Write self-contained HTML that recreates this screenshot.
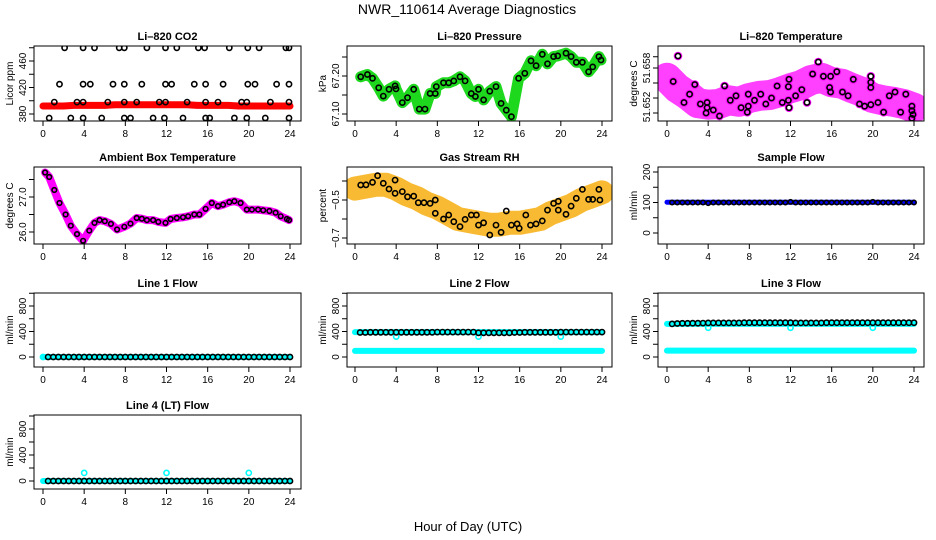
<!DOCTYPE html>
<html><head><meta charset="utf-8"><style>
html,body{margin:0;padding:0;background:#fff}
svg{display:block;font-family:"Liberation Sans",sans-serif}
.t{font-size:11px;font-weight:bold;text-anchor:middle}
.tk{font-size:10px;text-anchor:middle}
</style></head><body>
<svg id="c" width="936" height="540" viewBox="0 0 936 540">
<text x="467" y="14" font-size="14" text-anchor="middle">NWR_110614  Average Diagnostics</text>
<text x="468" y="531" font-size="13" text-anchor="middle">Hour of Day (UTC)</text>
</svg>
<script>
const xTicks=[0,4,8,12,16,20,24];
const H=[0.5,1,1.5,2,2.5,3,3.5,4,4.5,5,5.5,6,6.5,7,7.5,8,8.5,9,9.5,10,10.5,11,11.5,12,12.5,13,13.5,14,14.5,15,15.5,16,16.5,17,17.5,18,18.5,19,19.5,20,20.5,21,21.5,22,22.5,23,23.5,24];
const bandHours=[0,1,2,3,4,5,6,7,8,9,10,11,12,13,14,15,16,17,18,19,20,21,22,23,24];
// CO2
const co2Hours=[2.1,3.9,5,7.4,7.9,10.1,11.9,13,15.1,15.7,18.1,19.9,21,23.6,23.9,1.6,3.9,4.6,6.8,7.9,9.6,11.9,12.5,14.7,15.8,17.5,19.9,20.6,22.7,23.9,1.1,3.3,3.9,6.3,7.9,9.1,11.3,11.9,14,15.8,17,19.3,19.8,22.1,23.9,0.6,2.7,3.9,5.7,7.9,8.5,10.7,11.8,13.6,15.8,16.2,18.6,19.8,21.6,23.9];
const co2Vals=[480,480,480,480,480,480,480,480,480,480,480,480,480,480,480,425,425,425,425,425,425,425,425,425,425,425,425,425,425,425,398,398,398,398,398,398,398,398,398,398,398,398,398,398,398,374,374,374,374,374,374,374,374,374,374,374,374,374,374,374];
const co2Red=[392,392,392,393,393,393,393,394,394,394,394,394,394,394,394,393,393,393,393,392,392,392,392,392,392];
// Pressure
const presHours=[0.55,1.2,1.7,2.3,2.75,3.3,3.9,3.98,4.6,5.1,5.7,6.25,6.8,7.3,7.8,7.9,8.6,9.1,9.6,10.2,10.7,11.3,11.7,12,12.5,13.1,13.7,14.2,14.7,15.2,15.9,16.5,17.1,17.6,18.2,18.7,19.3,19.7,20.5,21,21.5,22.1,22.7,23.1,23.7,23.9];
const presVals=[67.198,67.204,67.194,67.169,67.147,67.165,67.174,67.166,67.130,67.143,67.165,67.113,67.113,67.154,67.154,67.172,67.182,67.182,67.187,67.198,67.187,67.154,67.146,67.165,67.137,67.160,67.172,67.128,67.110,67.093,67.194,67.207,67.240,67.227,67.257,67.232,67.251,67.253,67.260,67.251,67.236,67.236,67.211,67.224,67.251,67.242];
// Li-820 temperature
const t820Hours=[0.6,1.07,1.65,2.2,2.7,3.25,3.8,3.9,3.9,4.5,5.1,5.6,6.15,6.7,7.2,7.8,7.9,7.9,8.5,9.1,9.6,10.15,10.7,11.2,11.8,11.8,11.85,11.85,12.5,13.1,13.6,14.15,14.7,15.2,15.8,15.9,15.9,16.5,17.05,17.6,18.1,18.7,19.2,19.8,19.8,19.8,19.8,20.5,21.05,21.6,22.15,22.7,23.2,23.8,23.8,23.9,23.8];
const t820Vals=[51.6542,51.6576,51.6514,51.6525,51.6538,51.6512,51.6500,51.6514,51.6507,51.6504,51.6496,51.6536,51.6517,51.6523,51.6507,51.6501,51.6509,51.6525,51.6517,51.6525,51.6512,51.6520,51.6536,51.6514,51.6517,51.6535,51.6545,51.6507,51.6523,51.6531,51.6514,51.6552,51.6568,51.6549,51.6534,51.6528,51.6549,51.6555,51.6528,51.6523,51.6545,51.6512,51.6509,51.6511,51.6534,51.6541,51.6549,51.6514,51.6501,51.6523,51.6528,51.6501,51.6525,51.6509,51.6503,51.6498,51.6493];
const t820Band=[51.6547,51.6533,51.6524,51.6513,51.6511,51.6512,51.6517,51.6515,51.6520,51.6523,51.6524,51.6528,51.6533,51.6537,51.6544,51.6547,51.6541,51.6539,51.6533,51.6528,51.6520,51.6517,51.6515,51.6512,51.6507];
// Ambient box temperature
const ambHours=[0.2,0.6,1.1,1.6,2.2,2.7,3.3,3.9,4.5,5,5.5,6,6.6,7.2,7.9,8.5,9.1,9.6,10.1,10.7,11.2,11.9,12.4,13,13.6,14.1,14.7,15.2,15.8,16.4,17,17.5,18.1,18.6,19.2,19.8,20.3,20.9,21.4,22,22.6,23.1,23.7,23.9];
const ambVals=[27.7,27.57,27.2,26.83,26.5,26.18,25.94,25.75,26.04,26.26,26.34,26.31,26.23,26.07,26.15,26.24,26.4,26.38,26.34,26.34,26.29,26.26,26.37,26.4,26.42,26.45,26.5,26.5,26.66,26.83,26.74,26.78,26.85,26.88,26.83,26.64,26.64,26.64,26.62,26.6,26.55,26.45,26.37,26.34];
// Gas stream RH
const rhHours=[0.55,1.07,1.7,2.2,2.75,3.3,3.9,3.9,4.6,5.1,5.7,6.15,6.7,7.3,7.8,7.8,8.6,9.1,9.6,10.2,10.7,11.3,11.8,12,12.5,13.1,13.7,14.2,14.7,15.2,15.75,15.95,16.6,17.05,17.6,18.2,18.7,19.3,19.75,19.75,20.5,21,21.5,22.1,22.7,23.1,23.7,23.8];
const rhVals=[-0.421,-0.42,-0.407,-0.372,-0.412,-0.442,-0.395,-0.465,-0.456,-0.483,-0.48,-0.514,-0.514,-0.518,-0.5,-0.57,-0.6,-0.579,-0.614,-0.64,-0.602,-0.579,-0.579,-0.632,-0.62,-0.684,-0.632,-0.67,-0.558,-0.632,-0.626,-0.649,-0.579,-0.632,-0.626,-0.61,-0.553,-0.518,-0.507,-0.553,-0.575,-0.532,-0.491,-0.444,-0.497,-0.497,-0.444,-0.5];
const rhBand=[-0.44,-0.43,-0.42,-0.42,-0.44,-0.47,-0.49,-0.52,-0.54,-0.57,-0.6,-0.61,-0.62,-0.63,-0.63,-0.62,-0.62,-0.61,-0.6,-0.57,-0.55,-0.53,-0.5,-0.48,-0.46];
// Flows
const sampleVals=[100,100,100,100,100,100,100,98,100,100,100,100,100,100,100,100,100,100,100,100,100,100,100,102,100,100,100,100,100,100,100,100,100,100,100,100,100,100,100,102,100,100,100,100,100,100,100,100];
const sampleBlue=[101,101,101,101,101,101,101,101,101,101,101,101,101,101,101,101,101,101,101,101,101,101,101,101,101];
const line1Vals=[0,0,0,0,0,0,0,0,0,0,0,0,0,0,0,0,0,0,0,0,0,0,0,0,0,0,0,0,0,0,0,0,0,0,0,0,0,0,0,0,0,0,0,0,0,0,0,0];
const line2Vals=[385,385,388,388,388,388,388,388,388,388,388,388,388,388,388,390,390,390,390,390,390,390,390,380,380,380,380,380,380,380,385,385,388,388,388,388,388,388,388,390,390,390,390,390,390,390,390,390];
const line3Vals=[520,525,528,528,530,530,532,535,535,535,535,535,535,535,538,538,538,538,538,538,538,538,538,538,535,535,535,535,535,535,538,538,538,538,538,538,538,538,538,538,538,538,538,538,538,538,538,538];
const line4Vals=[0,0,0,0,0,0,0,0,0,0,0,0,0,0,0,0,0,0,0,0,0,0,0,0,0,0,0,0,0,0,0,0,0,0,0,0,0,0,0,0,0,0,0,0,0,0,0,0];
const line2CyanHigh=[390,390,390,390,390,390,390,390,390,390,390,390,390,390,390,390,390,390,390,390,390,390,390,390,390];
const line2CyanLow=[95,95,95,95,95,95,95,95,95,95,95,95,95,95,95,95,95,95,95,95,95,95,95,95,95];
const line3CyanHigh=[520,520,520,520,520,520,520,520,520,520,520,520,520,520,520,520,520,520,520,520,520,520,520,520,520];
const line3CyanLow=[100,100,100,100,100,100,100,100,100,100,100,100,100,100,100,100,100,100,100,100,100,100,100,100,100];
const zeroCyan=[0,0,0,0,0,0,0,0,0,0,0,0,0,0,0,0,0,0,0,0,0,0,0,0,0];
const dipHours=[4,12,20];
const line2Dips=[320,320,320];
const line3Dips=[460,460,460];
const line4Spikes=[125,125,125];
const line1Spikes=[0];

const NS='http://www.w3.org/2000/svg';
const svg=document.getElementById('c');
function mk(tag,attrs,parent){const e=document.createElementNS(NS,tag);for(const k in attrs)e.setAttribute(k,attrs[k]);(parent||svg).appendChild(e);return e;}
const cols=[{l:34,r:301,x0:43,x24:290},{l:347,r:612,x0:355,x24:602},{l:658,r:924,x0:667,x24:914}];
const rows=[{t:46,b:121},{t:167,b:244},{t:293,b:367},{t:415,b:489}];

function panel(o){
  const c=cols[o.col],r=rows[o.row];
  const g=mk('g',{});
  
  
  const xs=h=>c.x0+h*(c.x24-c.x0)/24;
  const ys=v=>o.y1+(v-o.v1)*(o.y2-o.y1)/(o.v2-o.v1);
  const clipId='clip'+o.col+o.row;
  const cp=mk('clipPath',{id:clipId},g);mk('rect',{x:c.l,y:r.t,width:c.r-c.l,height:r.b-r.t},cp);
  const title=mk('text',{x:(c.l+c.r)/2,y:r.t-6,class:'t'},g);title.textContent=o.title;
  
  
  const pg=mk('g',{'clip-path':'url(#'+clipId+')'},g);
  (o.bands||[]).forEach(b=>{
    const pts=b.h.map((h,i)=>xs(h).toFixed(1)+','+ys(b.v[i]).toFixed(1)).join(' ');
    const pl=mk('polyline',{points:pts,fill:'none',stroke:b.color,'stroke-width':b.w,'stroke-linejoin':'round','stroke-linecap':'round',opacity:b.op||1},pg);
    
    
  });
  (o.pts||[]).forEach(s=>{
    s.h.forEach((h,i)=>{
      const ci=mk('circle',{cx:xs(h).toFixed(1),cy:ys(s.v[i]).toFixed(1),r:s.r||2.6,fill:'none',stroke:s.color,'stroke-width':s.sw||1.6},pg);
      
      
    });
  });
  const box=mk('rect',{x:c.l,y:r.t,width:c.r-c.l,height:r.b-r.t,fill:'none',stroke:'#000','stroke-width':1},g);
  
  
  xTicks.forEach(t=>{
    mk('line',{x1:xs(t),x2:xs(t),y1:r.b,y2:r.b+5,stroke:'#000'},g);
    const tx=mk('text',{x:xs(t),y:r.b+16,class:'tk'},g);tx.textContent=t;
    
    
  });
  o.yt.forEach(t=>{mk('line',{x1:c.l-5,x2:c.l,y1:ys(t),y2:ys(t),stroke:'#000'},g);});
  o.yl.forEach(l=>{
    const yy=l.y!==undefined?l.y:ys(l.v);
    const tx=mk('text',{x:c.l-8,y:yy,class:'tk',transform:'rotate(-90 '+(c.l-8)+' '+yy+')'},g);
    tx.textContent=l.s;
    
    
  });
  const yl=mk('text',{x:c.l-21,y:(r.t+r.b)/2,class:'tk',transform:'rotate(-90 '+(c.l-21)+' '+((r.t+r.b)/2)+')'},g);
  yl.textContent=o.ylab;
  
  
}
const flowT=[0,200,400,600,800,1000];
const flowL=[{v:0,s:'0'},{v:400,s:'400'},{v:800,s:'800'}];
panel({name:'co2',col:0,row:0,title:'Li\u2013820 CO2',ylab:'Licor ppm',v1:380,y1:114,v2:460,y2:61,yt:[380,400,420,440,460,480],yl:[{v:380,s:'380'},{v:420,s:'420'},{v:460,s:'460'}],
 bands:[{h:bandHours,v:co2Red,color:'#f00',w:7}],pts:[{h:co2Hours,v:co2Vals,color:'#000'}]});
panel({name:'pressure',col:1,row:0,title:'Li\u2013820 Pressure',ylab:'kPa',v1:67.10,y1:114,v2:67.20,y2:76,yt:[67.10,67.15,67.20,67.25],yl:[{v:67.10,s:'67.10'},{v:67.20,s:'67.20'}],
 bands:[{h:presHours,v:presVals,color:'#1ed81e',w:11}],pts:[{h:presHours,v:presVals,color:'#000'}]});
panel({name:'li820-temperature',col:2,row:0,title:'Li\u2013820 Temperature',ylab:'degrees C',v1:51.650,y1:113,v2:51.658,y2:53,yt:[51.650,51.652,51.654,51.656,51.6575],yl:[{y:107,s:'51.652'},{y:68,s:'51.658'}],
 bands:[{h:bandHours,v:t820Band,color:'#f0f',w:30,op:0.75}],pts:[{h:t820Hours,v:t820Vals,color:'#f0f',r:3.5},{h:t820Hours,v:t820Vals,color:'#000'}]});
panel({name:'ambient-temperature',col:0,row:1,title:'Ambient Box Temperature',ylab:'degrees C',v1:26.0,y1:232,v2:27.0,y2:197,yt:[26.0,26.5,27.0,27.5],yl:[{v:26.0,s:'26.0'},{v:27.0,s:'27.0'}],
 bands:[{h:ambHours,v:ambVals,color:'#f0f',w:8}],pts:[{h:ambHours,v:ambVals,color:'#000',r:2.3}]});
panel({name:'gas-stream-rh',col:1,row:1,title:'Gas Stream RH',ylab:'percent',v1:-0.5,y1:200,v2:-0.7,y2:238,yt:[-0.4,-0.5,-0.6,-0.7],yl:[{v:-0.5,s:'\u22120.5'},{v:-0.7,s:'\u22120.7'}],
 bands:[{h:bandHours,v:rhBand,color:'#f7b21c',w:24,op:0.9}],pts:[{h:rhHours,v:rhVals,color:'#000'}]});
panel({name:'sample-flow',col:2,row:1,title:'Sample Flow',ylab:'ml/min',v1:0,y1:233,v2:200,y2:172,yt:[0,50,100,150,200],yl:[{v:0,s:'0'},{v:100,s:'100'},{v:200,s:'200'}],
 bands:[{h:bandHours,v:sampleBlue,color:'#00f',w:5}],pts:[{h:H,v:sampleVals,color:'#000',r:2.2}]});
panel({name:'line1-flow',col:0,row:2,title:'Line 1 Flow',ylab:'ml/min',v1:0,y1:357,v2:800,y2:306,yt:flowT,yl:flowL,
 bands:[{h:bandHours,v:zeroCyan,color:'#0ff',w:6}],pts:[{h:line1Spikes,v:line1Spikes,color:'#0ff'},{h:H,v:line1Vals,color:'#000'}]});
panel({name:'line2-flow',col:1,row:2,title:'Line 2 Flow',ylab:'ml/min',v1:0,y1:357,v2:800,y2:306,yt:flowT,yl:flowL,
 bands:[{h:bandHours,v:line2CyanHigh,color:'#0ff',w:6},{h:bandHours,v:line2CyanLow,color:'#0ff',w:6}],pts:[{h:dipHours,v:line2Dips,color:'#0ff'},{h:H,v:line2Vals,color:'#000'}]});
panel({name:'line3-flow',col:2,row:2,title:'Line 3 Flow',ylab:'ml/min',v1:0,y1:357,v2:800,y2:306,yt:flowT,yl:flowL,
 bands:[{h:bandHours,v:line3CyanHigh,color:'#0ff',w:6},{h:bandHours,v:line3CyanLow,color:'#0ff',w:6}],pts:[{h:dipHours,v:line3Dips,color:'#0ff'},{h:H,v:line3Vals,color:'#000'}]});
panel({name:'line4-flow',col:0,row:3,title:'Line 4 (LT) Flow',ylab:'ml/min',v1:0,y1:481,v2:800,y2:429,yt:flowT,yl:flowL,
 bands:[{h:bandHours,v:zeroCyan,color:'#0ff',w:6}],pts:[{h:dipHours,v:line4Spikes,color:'#0ff'},{h:H,v:line4Vals,color:'#000'}]});
</script>
</body></html>
